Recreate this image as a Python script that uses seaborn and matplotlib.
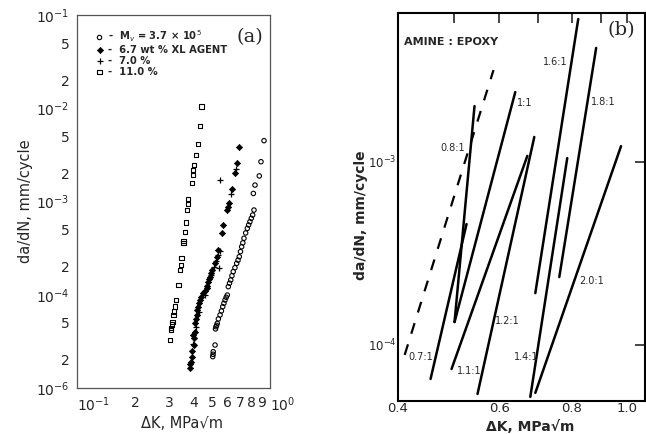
import numpy as np
import pandas as pd
import matplotlib
matplotlib.use("Agg")
import matplotlib.pyplot as plt
import seaborn as sns

sns.set_style("white")
plt.rcParams['font.family'] = ['DejaVu Sans']
plt.rcParams['mathtext.fontset'] = 'dejavusans'

# ---------------- Panel (a) data ----------------
sq_dk = [0.4426, 0.4335, 0.4251, 0.4136, 0.4053, 0.4005, 0.3977, 0.3930, 0.3773, 0.3747,
         0.3702, 0.3671, 0.3627, 0.3555, 0.3555, 0.3487, 0.3446, 0.3417, 0.3349, 0.3258, 0.3219,
         0.3190, 0.3155, 0.3132, 0.3100, 0.3069, 0.3060, 0.3033]
sq_rate = [1.04e-2, 6.45e-3, 4.14e-3, 3.15e-3, 2.46e-3, 2.18e-3, 1.92e-3, 1.58e-3, 1.06e-3, 9.4e-4,
           8.1e-4, 5.93e-4, 4.74e-4, 3.75e-4, 3.61e-4, 2.48e-4, 2.09e-4, 1.84e-4, 1.27e-4, 8.79e-5, 7.45e-5,
           6.6e-5, 6.07e-5, 5.14e-5, 4.8e-5, 4.37e-5, 4.2e-5, 3.27e-5]

dia_dk = [0.385, 0.387, 0.388, 0.393, 0.396, 0.4053, 0.3977, 0.4020, 0.4088, 0.4088, 0.4120,
          0.417, 0.421, 0.4251, 0.429, 0.4335, 0.440, 0.451, 0.458, 0.470, 0.474, 0.479, 0.484,
          0.489, 0.495, 0.502, 0.519, 0.529, 0.540, 0.562, 0.573, 0.596, 0.608, 0.612, 0.638,
          0.659, 0.677, 0.690]
dia_rate = [1.63e-5, 1.8e-5, 1.91e-5, 2.17e-5, 2.5e-5, 2.89e-5, 3.70e-5, 3.4e-5, 4.02e-5, 4.94e-5,
            5.5e-5, 6.07e-5, 6.8e-5, 7.45e-5, 8.1e-5, 8.79e-5, 9.5e-5, 1.04e-4, 1.1e-4, 1.17e-4,
            1.25e-4, 1.38e-4, 1.47e-4, 1.56e-4, 1.7e-4, 1.84e-4, 2.17e-4, 2.56e-4, 3.02e-4, 4.56e-4,
            5.60e-4, 8.1e-4, 8.8e-4, 9.6e-4, 1.35e-3, 2.0e-3, 2.57e-3, 3.87e-3]

plus_dk = [0.400, 0.415, 0.430, 0.462, 0.497, 0.510, 0.525, 0.535, 0.546, 0.548, 0.551, 0.626, 0.666]
plus_rate = [3.0e-5, 4.5e-5, 6.6e-5, 1.0e-4, 1.62e-4, 2.0e-4, 2.3e-4, 2.7e-4, 1.92e-4, 2.95e-4,
             1.70e-3, 1.2e-3, 2.25e-3]

circ_dk = [0.505, 0.507, 0.508, 0.519, 0.522, 0.525, 0.529, 0.533, 0.540, 0.551, 0.560, 0.569,
           0.577, 0.585, 0.593, 0.601, 0.608, 0.617, 0.626, 0.635, 0.645, 0.658, 0.672, 0.683,
           0.693, 0.703, 0.713, 0.723, 0.733, 0.748, 0.763, 0.775, 0.787, 0.800, 0.813, 0.826,
           0.820, 0.836, 0.880, 0.898, 0.931]
circ_rate = [2.17e-5, 2.3e-5, 2.45e-5, 2.89e-5, 4.3e-5, 4.54e-5, 4.7e-5, 4.94e-5, 5.5e-5, 6.07e-5,
             6.7e-5, 7.45e-5, 8.1e-5, 8.79e-5, 9.4e-5, 9.93e-5, 1.22e-4, 1.33e-4, 1.44e-4, 1.6e-4,
             1.77e-4, 1.95e-4, 2.17e-4, 2.35e-4, 2.56e-4, 2.9e-4, 3.27e-4, 3.6e-4, 4.03e-4, 4.6e-4,
             5.15e-4, 5.6e-4, 6.07e-4, 6.6e-4, 7.16e-4, 8.1e-4, 1.22e-3, 1.50e-3, 1.88e-3, 2.67e-3,
             4.49e-3]

a_legend = [r"-  M$_v$ = 3.7 × 10$^5$", "-  6.7 wt % XL AGENT", "-  7.0 %", "-  11.0 %"]
a_yticks = [1e-1, 5e-2, 2e-2, 1e-2, 5e-3, 2e-3, 1e-3, 5e-4, 2e-4, 1e-4, 5e-5, 2e-5, 1e-5]
a_yticklabels = [r"$10^{-1}$", "5", "2", r"$10^{-2}$", "5", "2", r"$10^{-3}$", "5", "2",
                 r"$10^{-4}$", "5", "2", r"$10^{-6}$"]
a_xticks = [0.1, 0.2, 0.3, 0.4, 0.5, 0.6, 0.7, 0.8, 0.9, 1.0]
a_xticklabels = [r"$10^{-1}$", "2", "3", "4", "5", "6", "7", "8", "9", r"$10^{0}$"]

# ---------------- Panel (b) data ----------------
b_ratio = ["0.8:1", "1:1", "0.7:1", "1.1:1", "1.2:1", "1.4:1", "1.6:1", "1.8:1", "2.0:1"]
b_dk_lo = [0.5014, 0.5014, 0.4556, 0.4954, 0.5496, 0.6786, 0.6923, 0.7619, 0.6923]
b_dk_hi = [0.5430, 0.6390, 0.5260, 0.6706, 0.6895, 0.7865, 0.8218, 0.8828, 0.9750]
b_rate_lo = [1.335e-4, 1.335e-4, 6.52e-5, 7.39e-5, 5.40e-5, 5.20e-5, 1.92e-4, 2.35e-4, 5.47e-5]
b_rate_hi = [2.02e-3, 2.41e-3, 4.58e-4, 1.08e-3, 1.37e-3, 1.05e-3, 6.04e-3, 4.20e-3, 1.22e-3]
dash_dk = [0.4108, 0.5858]
dash_rate = [8.82e-5, 3.18e-3]
b_xticks = [0.4, 0.5, 0.6, 0.7, 0.8, 0.9, 1.0]
b_xticklabels = ["0.4", "", "0.6", "", "0.8", "", "1.0"]
b_yticks = [1e-4, 1e-3]
b_yticklabels = [r"$10^{-4}$", r"$10^{-3}$"]

# label positions (data coords)
b_lab_text = ["0.8:1", "1:1", "1.6:1", "1.8:1", "2.0:1", "1.2:1", "1.4:1", "1.1:1", "0.7:1"]
b_lab_x = [0.4973, 0.6442, 0.7496, 0.8650, 0.8252, 0.5881, 0.6366, 0.5054, 0.4172]
b_lab_y = [1.19e-3, 2.10e-3, 3.52e-3, 2.13e-3, 2.24e-4, 1.35e-4, 8.6e-5, 7.21e-5, 8.6e-5]
b_lab_ha = ["center", "left", "center", "left", "left", "left", "left", "left", "left"]

xlabel_text = "ΔK, MPa√m"
ylabel_text = "da/dN, mm/cycle"

# ---------------- Figure ----------------
fig = plt.figure(figsize=(6.46, 4.34), dpi=100)
axa = fig.add_axes([77/646, 1-388/434, 193/646, 373/434])
axb = fig.add_axes([398/646, 1-401/434, 247/646, 388/434])

# Panel (a)
axa.set_xscale('log'); axa.set_yscale('log')
sns.scatterplot(x=circ_dk, y=circ_rate, ax=axa, marker='o', s=10, facecolor='none',
                edgecolor='black', linewidth=0.8, label=a_legend[0])
sns.scatterplot(x=dia_dk, y=dia_rate, ax=axa, marker='D', s=10, color='black',
                edgecolor='black', linewidth=0.5, label=a_legend[1])
sns.scatterplot(x=plus_dk, y=plus_rate, ax=axa, marker='+', s=16, color='black',
                linewidth=0.9, label=a_legend[2])
sns.scatterplot(x=sq_dk, y=sq_rate, ax=axa, marker='s', s=10, facecolor='none',
                edgecolor='black', linewidth=0.8, label=a_legend[3])
axa.set_xlim(0.1, 1.0)
axa.set_ylim(1e-5, 1e-1)
axa.minorticks_off()
axa.set_xticks(a_xticks)
axa.set_xticklabels(a_xticklabels, fontsize=10)
axa.set_yticks(a_yticks)
axa.set_yticklabels(a_yticklabels, fontsize=10)
axa.minorticks_off()
xtl = axa.get_xticklabels()
xtl[0].set_horizontalalignment('left')
xtl[-1].set_horizontalalignment('left')
axa.tick_params(axis='both', direction='inout', length=5, width=0.8, color='#444444', pad=3)
for s in axa.spines.values():
    s.set_color('#555555'); s.set_linewidth(0.9)
axa.set_xlabel(xlabel_text, fontsize=10.5)
axa.xaxis.set_label_coords(0.545, -0.075)
axa.set_ylabel(ylabel_text, fontsize=10.5, labelpad=2)
leg = axa.legend(loc='upper left', bbox_to_anchor=(0.07, 0.975), frameon=False,
                 fontsize=7.2, handletextpad=0.3, labelspacing=0.1, handlelength=1.0,
                 borderaxespad=0)
for t in leg.get_texts():
    t.set_fontweight('bold')
axa.text(0.965, 0.94, "(a)", transform=axa.transAxes, ha='right', va='center',
         fontsize=14, family='DejaVu Serif')

# Panel (b)
axb.set_xscale('log'); axb.set_yscale('log')
rows = []
for r, x0, x1, y0, y1 in zip(b_ratio, b_dk_lo, b_dk_hi, b_rate_lo, b_rate_hi):
    rows.append({"ratio": r, "dk": x0, "rate": y0})
    rows.append({"ratio": r, "dk": x1, "rate": y1})
df_b = pd.DataFrame(rows)
sns.lineplot(data=df_b, x="dk", y="rate", units="ratio", estimator=None, color='black',
             linewidth=1.8, sort=False, ax=axb)
sns.lineplot(x=dash_dk, y=dash_rate, color='black', linewidth=1.6, ax=axb,
             linestyle=(0, (5, 5)), estimator=None)
axb.set_xlim(0.4, 1.073)
axb.set_ylim(4.94e-5, 6.52e-3)
axb.minorticks_off()
axb.set_xticks(b_xticks)
axb.set_xticklabels(b_xticklabels, fontsize=9.5)
axb.set_yticks(b_yticks)
axb.set_yticklabels(b_yticklabels, fontsize=8.5)
axb.minorticks_off()
axb.tick_params(axis='both', direction='in', length=7, width=1.2, top=True, right=True, pad=1)
for s in axb.spines.values():
    s.set_color('black'); s.set_linewidth(1.5)
axb.set_xlabel(xlabel_text, fontsize=10, fontweight='bold')
axb.xaxis.set_label_coords(0.534, -0.05)
axb.set_ylabel(ylabel_text, fontsize=10, fontweight='bold')
axb.yaxis.set_label_coords(-0.12, 0.48)
axb.text(0.4091, 4.53e-3, "AMINE : EPOXY", fontsize=8, fontweight='bold', ha='left', va='center')
axb.text(0.975, 5.26e-3, "(b)", fontsize=14, family='DejaVu Serif', ha='center', va='center')
for t, x, y, ha in zip(b_lab_text, b_lab_x, b_lab_y, b_lab_ha):
    axb.text(x, y, t, fontsize=7, ha=ha, va='center')

fig.savefig("out.png", dpi=100)
